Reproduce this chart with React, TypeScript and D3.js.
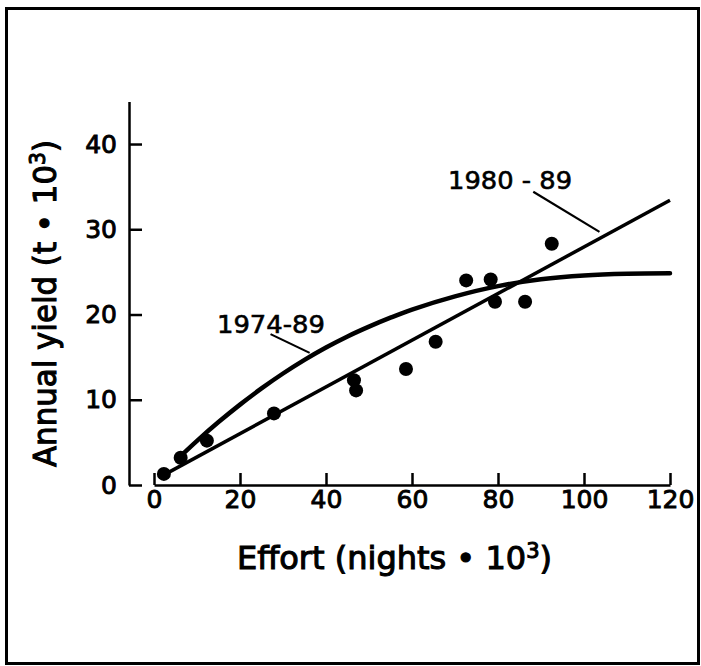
import { useEffect, useRef } from 'react'
import * as d3 from 'd3'

const effort = [2.3, 6.2, 12.3, 27.9, 46.5, 47.0, 58.6, 65.5, 72.6, 78.3, 79.3, 86.3, 92.5]
const annualYield = [1.3, 3.2, 5.2, 8.4, 12.3, 11.1, 13.6, 16.8, 24.0, 24.1, 21.5, 21.5, 28.3]

// 1980-89 fit (straight line)
const fit1980X = [2, 120]
const fit1980Y = [1.1, 33.4]

// 1974-89 fit (curve)
const fit1974X = [6, 10, 15, 20, 25, 30, 35, 40, 45, 50, 55, 60, 70, 80, 90, 100, 110, 120]
const fit1974Y = [3.3, 5.18, 7.38, 9.43, 11.33, 13.08, 14.68, 16.13, 17.43, 18.58, 19.63, 20.58, 22.13, 23.33, 24.13, 24.58, 24.78, 24.83]

const xTicks = [0, 20, 40, 60, 80, 100, 120]
const yTicks = [0, 10, 20, 30, 40]

const FONT = '"DejaVu Sans", sans-serif'

export default function App() {
  const ref = useRef<SVGSVGElement>(null)

  useEffect(() => {
    const svg = d3.select(ref.current)
    svg.selectAll('*').remove()

    const x = d3.scaleLinear().domain([0, 120]).range([154, 670])
    const y = d3.scaleLinear().domain([0, 45]).range([485, 101.4])

    // frame
    svg.append('rect')
      .attr('x', 6.5).attr('y', 8.5)
      .attr('width', 692).attr('height', 655)
      .attr('fill', 'none').attr('stroke', '#000').attr('stroke-width', 3)

    // y axis
    const yAxis = svg.append('g')
      .attr('transform', 'translate(129,0)')
      .call(d3.axisLeft(y).tickValues(yTicks).tickSize(-13).tickSizeOuter(0).tickPadding(12))
    yAxis.select('.domain').attr('stroke-width', 2.5)
    yAxis.selectAll('.tick line').attr('stroke-width', 2.5)
    yAxis.selectAll('.tick text')
      .attr('font-family', FONT).attr('font-size', 25)
      .attr('stroke', '#000').attr('stroke-width', 0.9)

    // x axis
    const xAxis = svg.append('g')
      .attr('transform', 'translate(0,485)')
      .call(d3.axisBottom(x).tickValues(xTicks).tickSize(-12).tickSizeOuter(0).tickPadding(5))
    xAxis.select('.domain').attr('stroke-width', 2.5)
    xAxis.selectAll('.tick line').attr('stroke-width', 2.5)
    xAxis.selectAll('.tick text')
      .attr('font-family', FONT).attr('font-size', 25)
      .attr('stroke', '#000').attr('stroke-width', 0.9)

    // fits
    const line = d3.line<[number, number]>()
      .x(d => x(d[0]))
      .y(d => y(d[1]))

    svg.append('path')
      .datum(fit1980X.map((v, i) => [v, fit1980Y[i]] as [number, number]))
      .attr('fill', 'none').attr('stroke', '#000').attr('stroke-width', 3.5)
      .attr('d', line)

    svg.append('path')
      .datum(fit1974X.map((v, i) => [v, fit1974Y[i]] as [number, number]))
      .attr('fill', 'none').attr('stroke', '#000').attr('stroke-width', 4.5)
      .attr('stroke-linecap', 'round')
      .attr('d', line.curve(d3.curveCatmullRom.alpha(0.5)))

    // points
    svg.append('g').selectAll('circle')
      .data(effort)
      .join('circle')
      .attr('cx', d => x(d))
      .attr('cy', (d, i) => y(annualYield[i]))
      .attr('r', 7)
      .attr('fill', '#000')

    // curve labels with leader lines
    const labels = [
      { text: '1974-89', cx: 27.2, by: 17.8, len: 108, lead: [[27.1, 17.7], [36.2, 15.5]] },
      { text: '1980 - 89', cx: 82.8, by: 34.7, len: 124, lead: [[88.2, 34.4], [103.6, 29.7]] }
    ]
    labels.forEach(l => {
      svg.append('text')
        .attr('x', x(l.cx)).attr('y', y(l.by))
        .attr('text-anchor', 'middle')
        .attr('font-family', FONT).attr('font-size', 25)
        .attr('textLength', l.len).attr('lengthAdjust', 'spacingAndGlyphs')
        .attr('stroke', '#000').attr('stroke-width', 0.6)
        .text(l.text)
      svg.append('line')
        .attr('x1', x(l.lead[0][0])).attr('y1', y(l.lead[0][1]))
        .attr('x2', x(l.lead[1][0])).attr('y2', y(l.lead[1][1]))
        .attr('stroke', '#000').attr('stroke-width', 2.2)
    })

    // axis titles
    const xt = svg.append('text')
      .attr('x', 394.5).attr('y', 569)
      .attr('text-anchor', 'middle')
      .attr('font-family', FONT).attr('font-size', 32)
      .attr('textLength', 315).attr('lengthAdjust', 'spacingAndGlyphs')
      .attr('stroke', '#000').attr('stroke-width', 1.1)
    xt.append('tspan').text('Effort (nights \u2022 10')
    xt.append('tspan').attr('dy', -11).attr('font-size', 21).text('3')
    xt.append('tspan').attr('dy', 11).text(')')

    const yt = svg.append('text')
      .attr('transform', 'translate(56,303.5) rotate(-90)')
      .attr('text-anchor', 'middle')
      .attr('font-family', FONT).attr('font-size', 32)
      .attr('textLength', 327).attr('lengthAdjust', 'spacingAndGlyphs')
      .attr('stroke', '#000').attr('stroke-width', 1.1)
    yt.append('tspan').text('Annual yield (t \u2022 10')
    yt.append('tspan').attr('dy', -11).attr('font-size', 21).text('3')
    yt.append('tspan').attr('dy', 11).text(')')
  }, [])

  return (
    <svg
      ref={ref}
      width={701}
      height={666}
      style={{ position: 'absolute', left: 0, top: 0, background: '#fff' }}
    />
  )
}
